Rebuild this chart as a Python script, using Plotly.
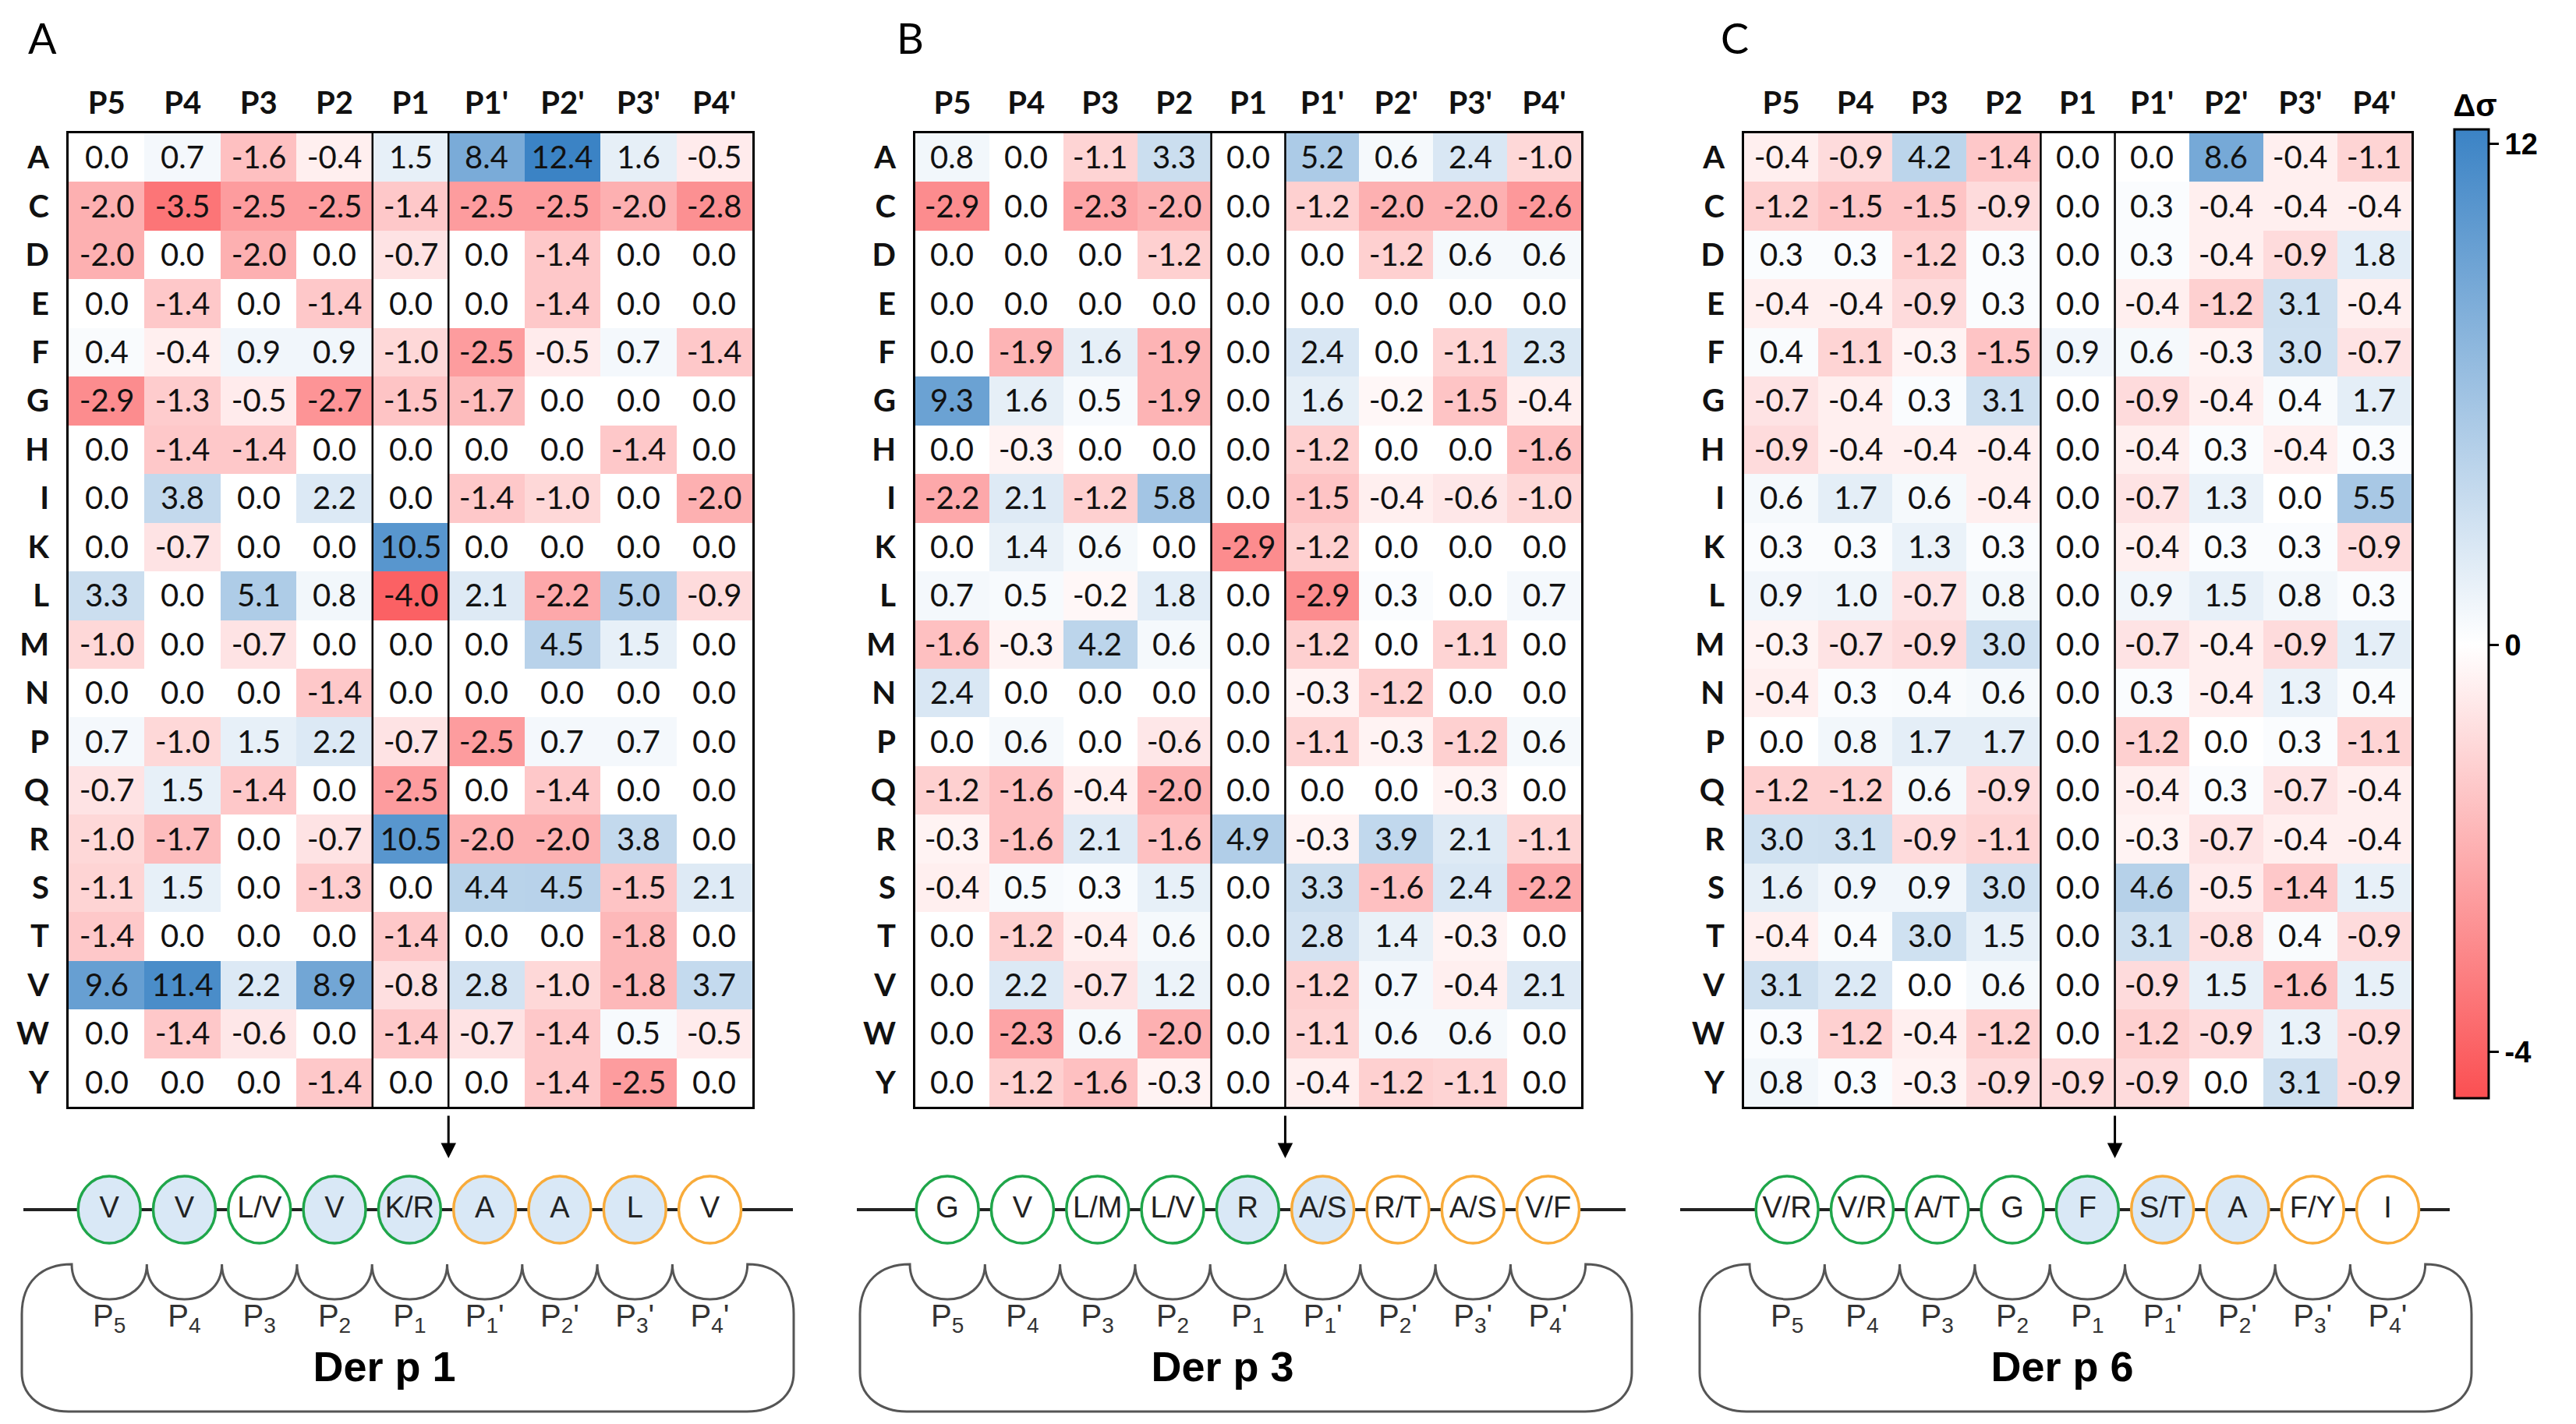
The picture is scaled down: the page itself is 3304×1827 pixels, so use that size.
import numpy as np
import plotly.graph_objects as go

W, H = 3304, 1827

positions = ["P5", "P4", "P3", "P2", "P1", "P1'", "P2'", "P3'", "P4'"]
residues = ["A", "C", "D", "E", "F", "G", "H", "I", "K", "L",
            "M", "N", "P", "Q", "R", "S", "T", "V", "W", "Y"]

# delta sigma, Der p 1
values_a = [
    [0.0, 0.7, -1.6, -0.4, 1.5, 8.4, 12.4, 1.6, -0.5],
    [-2.0, -3.5, -2.5, -2.5, -1.4, -2.5, -2.5, -2.0, -2.8],
    [-2.0, 0.0, -2.0, 0.0, -0.7, 0.0, -1.4, 0.0, 0.0],
    [0.0, -1.4, 0.0, -1.4, 0.0, 0.0, -1.4, 0.0, 0.0],
    [0.4, -0.4, 0.9, 0.9, -1.0, -2.5, -0.5, 0.7, -1.4],
    [-2.9, -1.3, -0.5, -2.7, -1.5, -1.7, 0.0, 0.0, 0.0],
    [0.0, -1.4, -1.4, 0.0, 0.0, 0.0, 0.0, -1.4, 0.0],
    [0.0, 3.8, 0.0, 2.2, 0.0, -1.4, -1.0, 0.0, -2.0],
    [0.0, -0.7, 0.0, 0.0, 10.5, 0.0, 0.0, 0.0, 0.0],
    [3.3, 0.0, 5.1, 0.8, -4.0, 2.1, -2.2, 5.0, -0.9],
    [-1.0, 0.0, -0.7, 0.0, 0.0, 0.0, 4.5, 1.5, 0.0],
    [0.0, 0.0, 0.0, -1.4, 0.0, 0.0, 0.0, 0.0, 0.0],
    [0.7, -1.0, 1.5, 2.2, -0.7, -2.5, 0.7, 0.7, 0.0],
    [-0.7, 1.5, -1.4, 0.0, -2.5, 0.0, -1.4, 0.0, 0.0],
    [-1.0, -1.7, 0.0, -0.7, 10.5, -2.0, -2.0, 3.8, 0.0],
    [-1.1, 1.5, 0.0, -1.3, 0.0, 4.4, 4.5, -1.5, 2.1],
    [-1.4, 0.0, 0.0, 0.0, -1.4, 0.0, 0.0, -1.8, 0.0],
    [9.6, 11.4, 2.2, 8.9, -0.8, 2.8, -1.0, -1.8, 3.7],
    [0.0, -1.4, -0.6, 0.0, -1.4, -0.7, -1.4, 0.5, -0.5],
    [0.0, 0.0, 0.0, -1.4, 0.0, 0.0, -1.4, -2.5, 0.0],
]

# delta sigma, Der p 3
values_b = [
    [0.8, 0.0, -1.1, 3.3, 0.0, 5.2, 0.6, 2.4, -1.0],
    [-2.9, 0.0, -2.3, -2.0, 0.0, -1.2, -2.0, -2.0, -2.6],
    [0.0, 0.0, 0.0, -1.2, 0.0, 0.0, -1.2, 0.6, 0.6],
    [0.0, 0.0, 0.0, 0.0, 0.0, 0.0, 0.0, 0.0, 0.0],
    [0.0, -1.9, 1.6, -1.9, 0.0, 2.4, 0.0, -1.1, 2.3],
    [9.3, 1.6, 0.5, -1.9, 0.0, 1.6, -0.2, -1.5, -0.4],
    [0.0, -0.3, 0.0, 0.0, 0.0, -1.2, 0.0, 0.0, -1.6],
    [-2.2, 2.1, -1.2, 5.8, 0.0, -1.5, -0.4, -0.6, -1.0],
    [0.0, 1.4, 0.6, 0.0, -2.9, -1.2, 0.0, 0.0, 0.0],
    [0.7, 0.5, -0.2, 1.8, 0.0, -2.9, 0.3, 0.0, 0.7],
    [-1.6, -0.3, 4.2, 0.6, 0.0, -1.2, 0.0, -1.1, 0.0],
    [2.4, 0.0, 0.0, 0.0, 0.0, -0.3, -1.2, 0.0, 0.0],
    [0.0, 0.6, 0.0, -0.6, 0.0, -1.1, -0.3, -1.2, 0.6],
    [-1.2, -1.6, -0.4, -2.0, 0.0, 0.0, 0.0, -0.3, 0.0],
    [-0.3, -1.6, 2.1, -1.6, 4.9, -0.3, 3.9, 2.1, -1.1],
    [-0.4, 0.5, 0.3, 1.5, 0.0, 3.3, -1.6, 2.4, -2.2],
    [0.0, -1.2, -0.4, 0.6, 0.0, 2.8, 1.4, -0.3, 0.0],
    [0.0, 2.2, -0.7, 1.2, 0.0, -1.2, 0.7, -0.4, 2.1],
    [0.0, -2.3, 0.6, -2.0, 0.0, -1.1, 0.6, 0.6, 0.0],
    [0.0, -1.2, -1.6, -0.3, 0.0, -0.4, -1.2, -1.1, 0.0],
]

# delta sigma, Der p 6
values_c = [
    [-0.4, -0.9, 4.2, -1.4, 0.0, 0.0, 8.6, -0.4, -1.1],
    [-1.2, -1.5, -1.5, -0.9, 0.0, 0.3, -0.4, -0.4, -0.4],
    [0.3, 0.3, -1.2, 0.3, 0.0, 0.3, -0.4, -0.9, 1.8],
    [-0.4, -0.4, -0.9, 0.3, 0.0, -0.4, -1.2, 3.1, -0.4],
    [0.4, -1.1, -0.3, -1.5, 0.9, 0.6, -0.3, 3.0, -0.7],
    [-0.7, -0.4, 0.3, 3.1, 0.0, -0.9, -0.4, 0.4, 1.7],
    [-0.9, -0.4, -0.4, -0.4, 0.0, -0.4, 0.3, -0.4, 0.3],
    [0.6, 1.7, 0.6, -0.4, 0.0, -0.7, 1.3, 0.0, 5.5],
    [0.3, 0.3, 1.3, 0.3, 0.0, -0.4, 0.3, 0.3, -0.9],
    [0.9, 1.0, -0.7, 0.8, 0.0, 0.9, 1.5, 0.8, 0.3],
    [-0.3, -0.7, -0.9, 3.0, 0.0, -0.7, -0.4, -0.9, 1.7],
    [-0.4, 0.3, 0.4, 0.6, 0.0, 0.3, -0.4, 1.3, 0.4],
    [0.0, 0.8, 1.7, 1.7, 0.0, -1.2, 0.0, 0.3, -1.1],
    [-1.2, -1.2, 0.6, -0.9, 0.0, -0.4, 0.3, -0.7, -0.4],
    [3.0, 3.1, -0.9, -1.1, 0.0, -0.3, -0.7, -0.4, -0.4],
    [1.6, 0.9, 0.9, 3.0, 0.0, 4.6, -0.5, -1.4, 1.5],
    [-0.4, 0.4, 3.0, 1.5, 0.0, 3.1, -0.8, 0.4, -0.9],
    [3.1, 2.2, 0.0, 0.6, 0.0, -0.9, 1.5, -1.6, 1.5],
    [0.3, -1.2, -0.4, -1.2, 0.0, -1.2, -0.9, 1.3, -0.9],
    [0.8, 0.3, -0.3, -0.9, -0.9, -0.9, 0.0, 3.1, -0.9],
]

# consensus cleavage motifs under each map
motif_a = ["V", "V", "L/V", "V", "K/R", "A", "A", "L", "V"]
motif_b = ["G", "V", "L/M", "L/V", "R", "A/S", "R/T", "A/S", "V/F"]
motif_c = ["V/R", "V/R", "A/T", "G", "F", "S/T", "A", "F/Y", "I"]
shaded_a = [1, 1, 0, 1, 1, 1, 1, 1, 0]
shaded_b = [0, 0, 0, 0, 1, 1, 0, 0, 0]
shaded_c = [0, 0, 0, 0, 1, 1, 1, 0, 0]

pocket_labels = ["P<sub>5</sub>", "P<sub>4</sub>", "P<sub>3</sub>", "P<sub>2</sub>",
                 "P<sub>1</sub>", "P<sub>1</sub>'", "P<sub>2</sub>'", "P<sub>3</sub>'",
                 "P<sub>4</sub>'"]

colorbar_ticks = [12, 0, -4]

# colour axis is two-sided: the zero point sits at 0.468 of the bar
ZERO_AT = 0.468
POS_SLOPE = (0.985 - ZERO_AT) / 12.0
NEG_SLOPE = (ZERO_AT - 0.048) / 4.0


def colour_value(z):
    z = np.asarray(z, dtype=float)
    return np.where(z >= 0, ZERO_AT + z * POS_SLOPE, ZERO_AT + z * NEG_SLOPE)


TOP, BOTTOM = 163, 1412

panels = [
    dict(letter="A", letter_x=46, name="Der p 1", values=values_a, motif=motif_a,
         shaded=shaded_a, left=80, right=957, box=20, line=(22, 1009)),
    dict(letter="B", letter_x=1159, name="Der p 3", values=values_b, motif=motif_b,
         shaded=shaded_b, left=1166, right=2020, box=1095, line=(1091, 2077)),
    dict(letter="C", letter_x=2217, name="Der p 6", values=values_c, motif=motif_c,
         shaded=shaded_c, left=2229, right=3085, box=2172, line=(2147, 3134)),
]

cell_font = dict(family="Lato, Liberation Sans, sans-serif", size=40, color="#111111")
head_font = dict(family="Lato, Liberation Sans, sans-serif", size=40, color="#111111")
diag_font = "Liberation Sans, Arial, sans-serif"

fig = go.Figure()
layout = {}
shapes = []
annotations = []

for i, p in enumerate(panels):
    sfx = "" if i == 0 else str(i + 1)
    vals = np.array(p["values"])
    text = [[f"{v:.1f}" for v in row] for row in p["values"]]
    fig.add_trace(go.Heatmap(
        z=colour_value(vals), x=positions, y=residues, text=text,
        texttemplate="%{text}", textfont=cell_font, coloraxis="coloraxis",
        xaxis="x" + sfx, yaxis="y" + sfx, hoverinfo="skip",
    ))
    layout["xaxis" + sfx] = dict(
        domain=[p["left"] / W, p["right"] / W], anchor="y" + sfx, side="top",
        tickvals=positions, ticktext=[f"<b>{c}</b>" for c in positions],
        tickfont=head_font, showline=True, mirror=True, linecolor="black",
        linewidth=3, ticks="", showgrid=False, zeroline=False, ticklabelstandoff=6,
    )
    layout["yaxis" + sfx] = dict(
        domain=[1 - BOTTOM / H, 1 - TOP / H], anchor="x" + sfx, autorange="reversed",
        tickvals=residues, ticktext=[f"<b>{r}</b>" for r in residues],
        tickfont=head_font, showline=True, mirror=True, linecolor="black",
        linewidth=3, ticks="", showgrid=False, zeroline=False, ticklabelstandoff=14,
    )
    for xb in (3.5, 4.5):
        shapes.append(dict(type="line", xref="x" + sfx, yref=f"y{sfx} domain",
                           x0=xb, x1=xb, y0=0, y1=1,
                           line=dict(color="black", width=2.5)))
    annotations.append(dict(text=p["letter"], xref="paper", yref="paper",
                            x=p["letter_x"] / W, y=1 - 40 / H, showarrow=False,
                            xanchor="center", yanchor="middle",
                            font=dict(family="Lato, sans-serif", size=54, color="black")))

# overlay axis in pixel units for the cleavage diagrams
layout["xaxis4"] = dict(domain=[0, 1], range=[0, W], anchor="y4", visible=False,
                        fixedrange=True)
layout["yaxis4"] = dict(domain=[0, 1], range=[H, 0], anchor="x4", visible=False,
                        fixedrange=True)

LINE_Y = 1544
CUSP0, POCKET_W, DEPTH = 64, 96.3, 45
CUSP_Y, BOX_BOTTOM, BOX_W = 1614, 1803, 990


def pocket_path(left):
    right = left + BOX_W
    d = f"M {left + CUSP0},{CUSP_Y}"
    for k in range(9):
        x0 = left + CUSP0 + k * POCKET_W
        x1 = x0 + POCKET_W
        cy = CUSP_Y + DEPTH * 4 / 3
        d += f" C {x0:.1f},{cy:.1f} {x1:.1f},{cy:.1f} {x1:.1f},{CUSP_Y}"
    xr = left + CUSP0 + 9 * POCKET_W
    d += f" C {xr + 38:.1f},{CUSP_Y} {right},{CUSP_Y + 22} {right},{CUSP_Y + 64}"
    d += f" L {right},{BOX_BOTTOM - 50}"
    d += f" C {right},{BOX_BOTTOM - 18} {right - 28},{BOX_BOTTOM} {right - 60},{BOX_BOTTOM}"
    d += f" L {left + 60},{BOX_BOTTOM}"
    d += f" C {left + 28},{BOX_BOTTOM} {left},{BOX_BOTTOM - 18} {left},{BOX_BOTTOM - 50}"
    d += f" L {left},{CUSP_Y + 64}"
    d += f" C {left},{CUSP_Y + 22} {left + CUSP0 - 38},{CUSP_Y} {left + CUSP0},{CUSP_Y} Z"
    return d


circ_x, circ_text, lab_x, lab_text, name_x, name_text = [], [], [], [], [], []
for i, p in enumerate(panels):
    b = p["box"]
    centers = [b + CUSP0 + POCKET_W * (k + 0.5) for k in range(9)]
    l0, l1 = p["line"]
    shapes.append(dict(type="line", xref="x4", yref="y4", x0=l0, x1=l1,
                       y0=LINE_Y, y1=LINE_Y, layer="below",
                       line=dict(color="#222222", width=4)))
    for k, cx in enumerate(centers):
        shapes.append(dict(
            type="circle", xref="x4", yref="y4", layer="below",
            x0=cx - 40, x1=cx + 40, y0=LINE_Y - 43, y1=LINE_Y + 43,
            fillcolor="#d9e8f6" if p["shaded"][k] else "white",
            line=dict(color="#1fa64a" if k < 5 else "#f8ab3a", width=3.5)))
    shapes.append(dict(type="path", xref="x4", yref="y4", path=pocket_path(b),
                       line=dict(color="#555555", width=3)))
    circ_x += centers
    circ_text += p["motif"]
    lab_x += centers
    lab_text += pocket_labels
    name_x.append(b + 465)
    name_text.append(f"<b>{p['name']}</b>")
    ax = p["left"] + 5 * (p["right"] - p["left"]) / 9
    annotations.append(dict(x=ax, y=1478, ax=ax, ay=1422, xref="x4", yref="y4",
                            axref="x4", ayref="y4", text="", showarrow=True,
                            arrowhead=2, arrowsize=1.3, arrowwidth=3,
                            arrowcolor="black"))

fig.add_trace(go.Scatter(x=circ_x, y=[LINE_Y] * len(circ_x), text=circ_text,
                         mode="text", xaxis="x4", yaxis="y4", hoverinfo="skip",
                         textfont=dict(family=diag_font, size=38, color="#222222"),
                         showlegend=False))
fig.add_trace(go.Scatter(x=lab_x, y=[1684] * len(lab_x), text=lab_text,
                         mode="text", xaxis="x4", yaxis="y4", hoverinfo="skip",
                         textfont=dict(family=diag_font, size=40, color="#333333"),
                         showlegend=False))
fig.add_trace(go.Scatter(x=name_x, y=[1750] * len(name_x), text=name_text,
                         mode="text", xaxis="x4", yaxis="y4", hoverinfo="skip",
                         textfont=dict(family=diag_font, size=54, color="black"),
                         showlegend=False))

TITLE_ROOM = 55
fig.update_layout(
    width=W, height=H, margin=dict(l=0, r=0, t=0, b=0),
    paper_bgcolor="white", plot_bgcolor="rgba(0,0,0,0)", showlegend=False,
    coloraxis=dict(
        cmin=0, cmax=1,
        colorscale=[[0, "#fb4f52"], [ZERO_AT, "#ffffff"], [1, "#3b83c5"]],
        colorbar=dict(
            x=3140 / W, xanchor="left", xpad=0, y=1 - (164 - TITLE_ROOM) / H,
            yanchor="top", ypad=0, len=(1401 - 164 + TITLE_ROOM) / H,
            lenmode="fraction", thickness=44,
            thicknessmode="pixels", outlinewidth=3, outlinecolor="black",
            tickvals=[float(v) for v in colour_value(colorbar_ticks)],
            ticktext=[f"<b>{t}</b>" for t in colorbar_ticks],
            ticks="outside", ticklen=12, tickwidth=3, tickcolor="black",
            tickfont=dict(family=diag_font, size=38, color="black"),
            title=dict(text="<b>Δσ</b>", side="top",
                       font=dict(family=diag_font, size=40, color="black")),
        ),
    ),
    shapes=shapes, annotations=annotations,
    **layout,
)

fig.write_html("out.html")
